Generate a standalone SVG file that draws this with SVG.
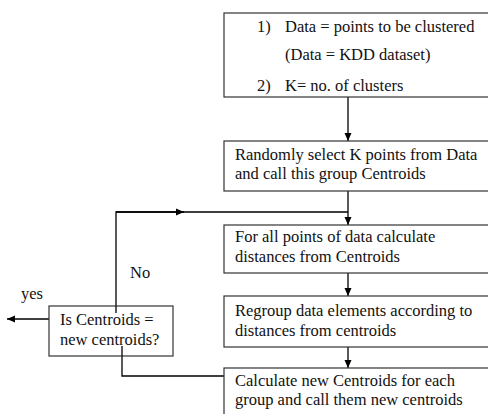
<svg xmlns="http://www.w3.org/2000/svg" width="488" height="414" viewBox="0 0 488 414">
<defs>
<marker id="ah" viewBox="0 0 8 8" refX="8" refY="4" markerWidth="8" markerHeight="8" markerUnits="userSpaceOnUse" orient="auto">
<path d="M0,0.5 L8,4 L0,7.5 Z" fill="#000"/>
</marker>
<style>
.box{fill:#fff;stroke:#333;stroke-width:1.2}
text{font-family:'Liberation Serif','Times New Roman','DejaVu Serif',serif;font-size:16.5px;fill:#111}
.c{fill:none;stroke:#000;stroke-width:1.3}
</style>
</defs>
<rect width="488" height="414" fill="#fff"/>
<g id="connectors">
<line class="c" x1="348" y1="97" x2="348" y2="141" marker-end="url(#ah)"/>
<line class="c" x1="348" y1="191" x2="348" y2="225" marker-end="url(#ah)"/>
<polyline class="c" points="116,313 116,212 348,212"/>
<line class="c" x1="116" y1="212" x2="184" y2="212" marker-end="url(#ah)"/>
<line class="c" x1="348" y1="273" x2="348" y2="296" marker-end="url(#ah)"/>
<line class="c" x1="348" y1="347" x2="348" y2="368" marker-end="url(#ah)"/>
<polyline class="c" points="224,376 122,376 122,346" marker-end="url(#ah)"/>
<line class="c" x1="49" y1="319" x2="7" y2="319" marker-end="url(#ah)"/>
<text x="130" y="278">No</text>
<text x="21" y="299">yes</text>
</g>
<g id="input">
<rect class="box" x="224" y="13" width="270" height="84"/>
<text x="257" y="32">1)</text>
<text x="285" y="32">Data = points to be clustered</text>
<text x="285" y="60">(Data = KDD dataset)</text>
<text x="257" y="91">2)</text>
<text x="285" y="91">K= no. of clusters</text>
</g>
<g id="select">
<rect class="box" x="224" y="141" width="270" height="50"/>
<text x="235" y="160">Randomly select K points from Data</text>
<text x="235" y="179">and call this group Centroids</text>
</g>
<g id="distances">
<rect class="box" x="224" y="225" width="270" height="48"/>
<text x="235" y="242">For all points of data calculate</text>
<text x="235" y="262">distances from Centroids</text>
</g>
<g id="regroup">
<rect class="box" x="224" y="296" width="270" height="51"/>
<text x="235" y="316">Regroup data elements according to</text>
<text x="235" y="336">distances from centroids</text>
</g>
<g id="newcentroids">
<rect class="box" x="224" y="368" width="270" height="60"/>
<text x="235" y="386">Calculate new Centroids for each</text>
<text x="235" y="405">group and call them new centroids</text>
</g>
<g id="decision">
<rect class="box" x="49" y="306" width="124" height="50"/>
<text x="60" y="325">Is Centroids =</text>
<text x="60" y="345">new centroids?</text>
</g>
<line class="c" x1="116" y1="306" x2="116" y2="313"/>
<line class="c" x1="122" y1="356" x2="122" y2="346"/>
</svg>
